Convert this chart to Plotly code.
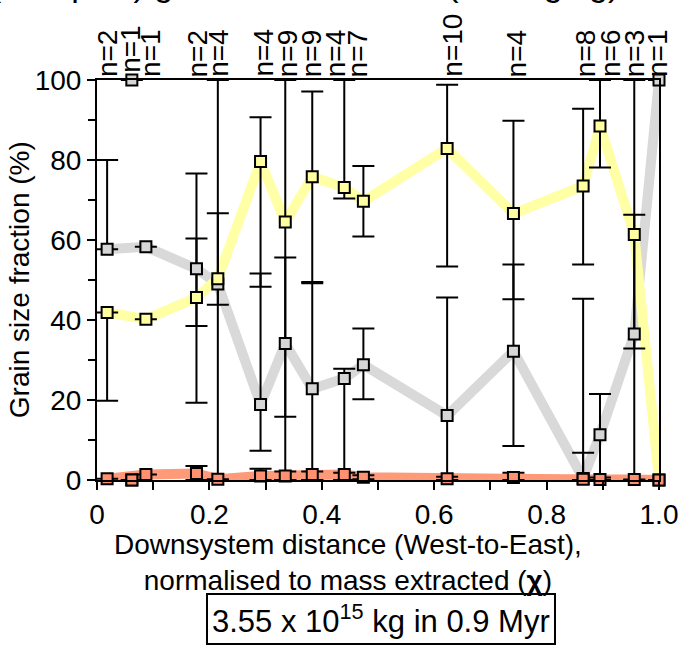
import plotly.graph_objects as go

# ---------------- data ----------------
x_pos = [0.018, 0.062, 0.087, 0.177, 0.215, 0.291, 0.335, 0.383, 0.440, 0.474,
         0.623, 0.741, 0.865, 0.895, 0.956, 1.0]
n_samples = [2, 1, 1, 2, 4, 4, 9, 9, 4, 7, 10, 4, 8, 6, 3, 1]

gravel = [57.7, 100, 58.3, 52.8, 49.0, 18.9, 34.1, 22.8, 25.4, 28.8,
          16.1, 32.2, 0.4, 11.3, 36.5, 100]
sand = [41.9, 0, 40.2, 45.6, 50.3, 79.6, 64.5, 75.8, 73.1, 69.7,
        82.9, 66.6, 73.5, 88.5, 61.4, 0]
mud = [0.3, 0, 1.4, 1.6, 0.2, 1.0, 1.0, 1.4, 1.4, 0.7,
       0.3, 0.6, 0.2, 0.1, 0.1, 0]

# error-bar limits (upper / lower), None = no bar
gravel_hi = [80, None, None, 76.6, 66.7, 51.6, 55.6, 49.2, 27.8, 37.9,
             45.6, 53.9, 45.3, 21.5, 100, None]
gravel_lo = [57.7, None, None, 38.5, 0, 7.3, 15.8, 0, 0, 20.2,
             0, 8.5, 0, 0, 32.9, None]
sand_hi = [41.9, None, None, 60.4, 100, 90.7, 100, 97.1, 100, 78.5,
           98.8, 89.8, 92.8, 100, 66.3, None]
sand_lo = [19.8, None, None, 19.3, 43.8, 48.3, 0, 49.5, 70.4, 60.9,
           53.4, 45.2, 53.9, 78.1, 0, None]
mud_hi = [None, None, None, 3.5, None, 2.8, 2.1, 2.1, 1.8, 1.2,
          0.8, 1.8, 6.8, 0.6, None, None]
mud_lo = [None, None, None, 0, None, 0, 0, 0, 0, 0.2,
          0, 0, 0, 0, None, None]

# samples joined by the connecting lines (the isolated n=1 sample at 0.062 is not)
line_idx = [i for i in range(len(x_pos)) if i != 1]

x_ticks = [0, 0.2, 0.4, 0.6, 0.8, 1.0]
x_ticktext = ["0", "0.2", "0.4", "0.6", "0.8", "1.0"]
y_ticks = [0, 20, 40, 60, 80, 100]

# label nudges (px) used to keep crowded n-labels apart
label_dx = [0, -2, 4, 1, 0, 2, 2, -1, -9, -6, 5, 3, 2, 10, 0, -2]
label_dy = [0, 4, 0, 0, 0, 0, 0, 0, 0, 0, 0, 0, 0, 0, 0, 0]

# ---------------- styles ----------------
FONT = "Liberation Sans, Arial, sans-serif"
FS = 28
series = [
    ("gravel", gravel, gravel_hi, gravel_lo, "#d9d9d9", "#d6d6d6"),
    ("sand", sand, sand_hi, sand_lo, "#ffffa6", "#ffffa0"),
    ("mud", mud, mud_hi, mud_lo, "#ff9a78", "#ff9070"),
]


def err(vals, hi, lo):
    plus = [None if h is None else h - v for v, h in zip(vals, hi)]
    minus = [None if l is None else v - l for v, l in zip(vals, lo)]
    return plus, minus


fig = go.Figure()

# thick connecting lines
for name, vals, hi, lo, lcol, mcol in series:
    fig.add_trace(go.Scatter(
        x=[x_pos[i] for i in line_idx], y=[vals[i] for i in line_idx],
        mode="lines", line=dict(color=lcol, width=10),
        showlegend=False, hoverinfo="skip"))

# error bars
for name, vals, hi, lo, lcol, mcol in series:
    plus, minus = err(vals, hi, lo)
    fig.add_trace(go.Scatter(
        x=x_pos, y=vals, mode="markers",
        marker=dict(size=1, color="rgba(0,0,0,0)"),
        error_y=dict(type="data", symmetric=False, array=plus, arrayminus=minus,
                     color="black", thickness=2, width=11),
        showlegend=False, hoverinfo="skip"))

# markers
for name, vals, hi, lo, lcol, mcol in series:
    fig.add_trace(go.Scatter(
        x=x_pos, y=vals, mode="markers", cliponaxis=False,
        marker=dict(symbol="square", size=11, color=mcol,
                    line=dict(color="black", width=2)),
        name=name, showlegend=False))

# sample-count labels above the frame
annotations = []
for xv, nv, dx, dy in zip(x_pos, n_samples, label_dx, label_dy):
    annotations.append(dict(
        x=xv, y=1, xref="x", yref="paper", text=f"n={nv}", textangle=-90,
        showarrow=False, xanchor="center", yanchor="bottom",
        xshift=dx, yshift=1 + dy,
        font=dict(family=FONT, size=FS, color="black")))

annotations += [
    dict(x=-0.1385, y=0.5, xref="paper", yref="paper",
         text="Grain size fraction (%)", textangle=-90,
         showarrow=False, xanchor="center", yanchor="middle",
         font=dict(family=FONT, size=FS, color="black")),
    dict(x=0.447, y=-0.205, xref="paper", yref="paper",
         text="Downsystem distance (West-to-East),<br>normalised to mass extracted (<b>χ</b>)",
         showarrow=False, xanchor="center", yanchor="middle",
         font=dict(family=FONT, size=FS, color="black")),
    dict(x=0.505, y=-0.3475, xref="paper", yref="paper",
         text="3.55 x 10<sup>15</sup> kg in 0.9 Myr",
         showarrow=False, xanchor="center", yanchor="middle",
         bordercolor="black", borderwidth=2, borderpad=4,
         font=dict(family=FONT, size=31, color="black")),
    dict(x=0.37, y=1.0, xref="paper", yref="paper",
         text="(Samples) grain size fractions (averaging)", showarrow=False,
         xanchor="center", yanchor="bottom", yshift=75,
         font=dict(family=FONT, size=34, color="black")),
]

axis_common = dict(showline=True, linecolor="black", linewidth=2, mirror=True,
                   showgrid=False, zeroline=False, ticks="outside",
                   tickcolor="black", tickwidth=2, ticklen=8, automargin=False,
                   tickfont=dict(family=FONT, size=FS, color="black"))

fig.update_layout(
    width=681, height=653,
    margin=dict(l=97, r=22, t=80, b=173),
    paper_bgcolor="white", plot_bgcolor="white",
    xaxis=dict(range=[0, 1], tickvals=x_ticks, ticktext=x_ticktext,
               minor=dict(dtick=0.1, ticks="outside", ticklen=8,
                          tickcolor="black", tickwidth=2),
               **axis_common),
    yaxis=dict(range=[0, 100], tickvals=y_ticks,
               minor=dict(dtick=10, ticks="outside", ticklen=7,
                          tickcolor="black", tickwidth=2),
               **axis_common),
    annotations=annotations,
    font=dict(family=FONT, color="black"),
)

fig.write_html("out.html")
